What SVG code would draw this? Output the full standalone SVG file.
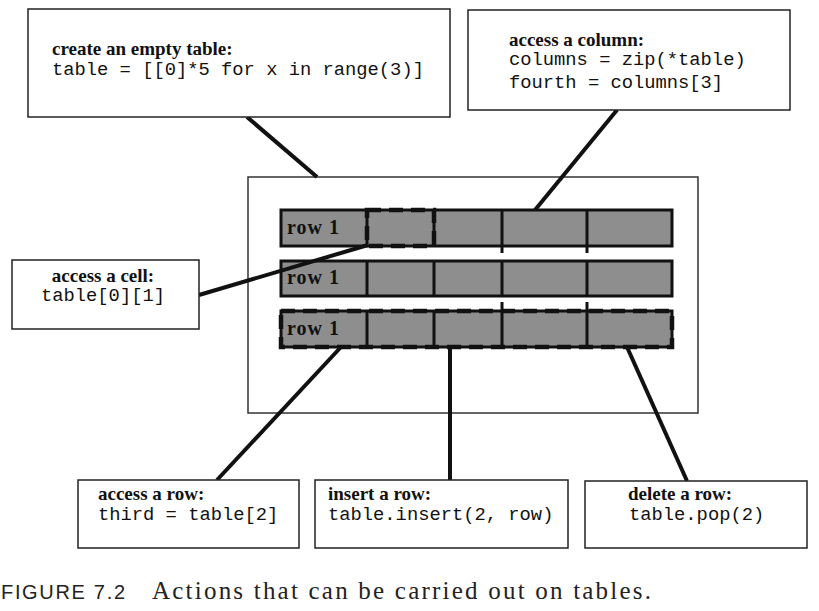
<svg xmlns="http://www.w3.org/2000/svg" width="819" height="611" viewBox="0 0 819 611">
<style>
.box{fill:#fff;stroke:#222;stroke-width:1.5}
.t{font-family:"Liberation Serif",serif;font-weight:bold;font-size:19px;fill:#111}
.c{font-family:"Liberation Mono",monospace;font-size:18.8px;fill:#111}
.row{fill:#8e8e8e;stroke:#111;stroke-width:3}
.div{stroke:#111;stroke-width:3}
.rl{font-family:"Liberation Serif",serif;font-weight:bold;font-size:20px;fill:#111}
.con{stroke:#111;stroke-width:4;fill:none}
.hl{fill:none;stroke:#111;stroke-width:4.5;stroke-dasharray:14 8}
</style>
<rect width="819" height="611" fill="#fff"/>
<g id="table">
<rect x="248" y="177" width="450" height="236" fill="#fff" stroke="#333" stroke-width="1.5"/>
<g id="row1">
<rect class="row" x="281" y="210" width="391" height="36"/>
<line class="div" x1="367" y1="210" x2="367" y2="246"/>
<line class="div" x1="434" y1="210" x2="434" y2="246"/>
<line class="div" x1="502" y1="210" x2="502" y2="246"/>
<line class="div" x1="587" y1="210" x2="587" y2="246"/>
<text class="rl" x="287" y="234" textLength="52">row 1</text>
</g>
<g id="row2">
<rect class="row" x="281" y="261" width="391" height="35"/>
<line class="div" x1="367" y1="261" x2="367" y2="296"/>
<line class="div" x1="434" y1="261" x2="434" y2="296"/>
<line class="div" x1="502" y1="261" x2="502" y2="296"/>
<line class="div" x1="587" y1="261" x2="587" y2="296"/>
<text class="rl" x="287" y="284" textLength="52">row 1</text>
</g>
<g id="row3">
<rect class="row" x="281" y="311" width="391" height="36"/>
<line class="div" x1="367" y1="311" x2="367" y2="347"/>
<line class="div" x1="434" y1="311" x2="434" y2="347"/>
<line class="div" x1="502" y1="311" x2="502" y2="347"/>
<line class="div" x1="587" y1="311" x2="587" y2="347"/>
<text class="rl" x="287" y="335" textLength="52">row 1</text>
</g>
<g id="highlights">
<rect class="hl" x="367" y="210" width="67" height="36"/>
<rect class="hl" x="281" y="311" width="391" height="36"/>
<line class="div" x1="502" y1="246" x2="502" y2="253"/>
<line class="div" x1="587" y1="246" x2="587" y2="253"/>
<line class="div" x1="502" y1="302" x2="502" y2="311"/>
<line class="div" x1="587" y1="302" x2="587" y2="311"/>
</g>
</g>
<g id="connectors">
<line class="con" x1="247" y1="117" x2="317" y2="177"/>
<line class="con" x1="617" y1="110" x2="535" y2="210"/>
<line class="con" x1="199" y1="295" x2="368" y2="245"/>
<line class="con" x1="341" y1="347" x2="217" y2="480"/>
<line class="con" x1="450" y1="347" x2="450" y2="480"/>
<line class="con" x1="627" y1="347" x2="687" y2="481"/>
</g>
<g id="create">
<rect class="box" x="28" y="9" width="422" height="108"/>
<text class="t" x="52" y="55">create an empty table:</text>
<text class="c" x="52" y="75">table = [[0]*5 for x in range(3)]</text>
</g>
<g id="column">
<rect class="box" x="468" y="10" width="322" height="100"/>
<text class="t" x="509" y="46">access a column:</text>
<text class="c" x="509" y="65">columns = zip(*table)</text>
<text class="c" x="509" y="88">fourth = columns[3]</text>
</g>
<g id="cell">
<rect class="box" x="12" y="260" width="187" height="69"/>
<text class="t" x="103" y="282" text-anchor="middle">access a cell:</text>
<text class="c" x="103" y="301" text-anchor="middle">table[0][1]</text>
</g>
<g id="getrow">
<rect class="box" x="78" y="480" width="221" height="68"/>
<text class="t" x="98" y="500">access a row:</text>
<text class="c" x="98" y="520">third = table[2]</text>
</g>
<g id="insertrow">
<rect class="box" x="315" y="480" width="253" height="68"/>
<text class="t" x="328" y="500">insert a row:</text>
<text class="c" x="328" y="520">table.insert(2, row)</text>
</g>
<g id="deleterow">
<rect class="box" x="585" y="481" width="222" height="67"/>
<text class="t" x="628" y="500">delete a row:</text>
<text class="c" x="629" y="520">table.pop(2)</text>
</g>
<g id="caption">
<text x="1" y="599" font-family="Liberation Sans,sans-serif" font-size="20" fill="#222" textLength="124">FIGURE 7.2</text>
<text x="152" y="599" font-family="Liberation Serif,serif" font-size="25" fill="#222" textLength="499">Actions that can be carried out on tables.</text>
</g>
</svg>
